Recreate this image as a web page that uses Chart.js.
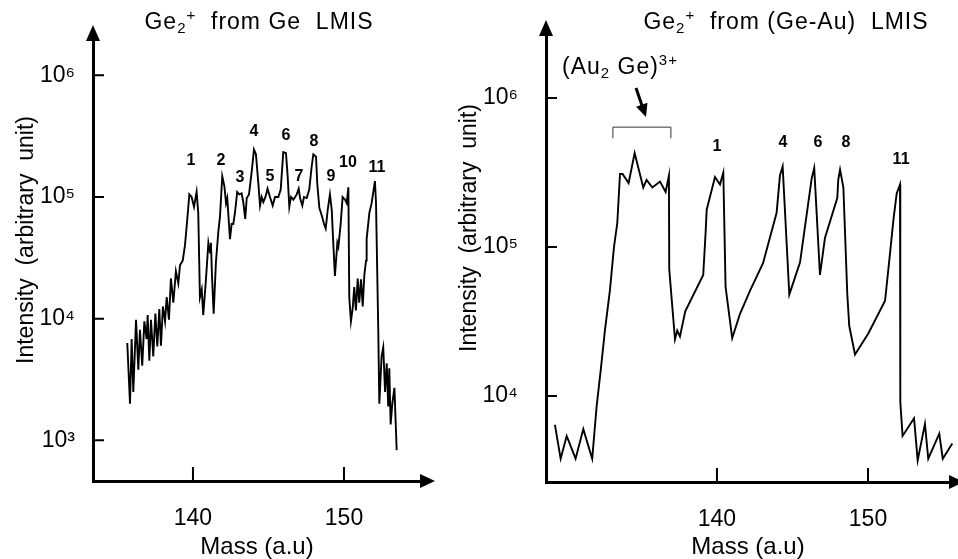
<!DOCTYPE html>
<html>
<head>
<meta charset="utf-8">
<script src="https://cdn.jsdelivr.net/npm/chart.js@4.4.0/dist/chart.umd.min.js"></script>
<style>
  body { margin: 0; background: #fff; }
  #wrap { position: relative; width: 958px; height: 559px; }
  #wrap canvas { position: absolute; left: 0; top: 0; }
</style>
</head>
<body>
<div id="wrap">
  <canvas id="left-chart" width="958" height="559"></canvas>
  <canvas id="right-chart" width="958" height="559"></canvas>
</div>
<script>
// Ge2+ spectrum from the Ge LMIS (left panel)
const leftMass = [
  135.65, 135.83, 135.94, 136.05, 136.23, 136.38, 136.49, 136.64, 136.78, 136.93,
  137.00, 137.11, 137.22, 137.37, 137.51, 137.64, 137.77, 137.88, 138.01, 138.15,
  138.26, 138.41, 138.54, 138.70, 138.87, 139.03, 139.14, 139.32, 139.47, 139.62,
  139.76, 139.91, 140.07, 140.24, 140.35, 140.46, 140.58, 140.68, 140.86, 141.02,
  141.13, 141.19, 141.26, 141.37, 141.52, 141.68, 141.79, 141.94, 142.08, 142.19,
  142.27, 142.45, 142.56, 142.67, 142.78, 142.93, 143.07, 143.22, 143.33, 143.46,
  143.56, 143.71, 143.89, 144.04, 144.17, 144.33, 144.44, 144.55, 144.66, 144.80,
  144.94, 145.10, 145.28, 145.43, 145.65, 145.81, 145.98, 146.16, 146.27, 146.38,
  146.49, 146.65, 146.87, 147.00, 147.09, 147.24, 147.35, 147.53, 147.70, 147.86,
  147.97, 148.15, 148.23, 148.37, 148.52, 148.68, 148.79, 148.92, 149.07, 149.19,
  149.29, 149.40, 149.56, 149.63, 149.78, 149.91, 150.07, 150.18, 150.29, 150.35,
  150.46, 150.58, 150.68, 150.79, 150.91, 151.01, 151.13, 151.24, 151.35, 151.46,
  151.50, 151.68, 151.83, 152.05, 152.12, 152.27, 152.34, 152.49, 152.60, 152.72,
  152.83, 152.93, 153.00, 153.09, 153.20, 153.34, 153.49
];
const leftIntensity = [
  6300, 2000, 6800, 2500, 9800, 3800, 8100, 4100, 9500, 6800,
  10700, 4500, 9800, 4900, 11000, 5900, 12000, 6000, 12600, 9500,
  15000, 9800, 21400, 13500, 24500, 19500, 27500, 30000, 40000, 65000,
  105000, 100000, 83000, 110000, 74000, 15000, 17400, 10700, 21000, 42000,
  35000, 42000, 22400, 11000, 29000, 52000, 69000, 148000, 123000, 89000,
  98000, 45000, 60000, 60000, 74000, 110000, 105000, 107000, 91000, 66000,
  98000, 105000, 162000, 245000, 224000, 129000, 85000, 100000, 91000, 100000,
  117000, 100000, 85000, 100000, 100000, 115000, 234000, 229000, 148000, 83000,
  100000, 95000, 105000, 117000, 98000, 85000, 100000, 98000, 115000, 178000,
  224000, 214000, 129000, 81000, 71000, 60000, 55000, 78000, 105000, 78000,
  42000, 22400, 42000, 39000, 60000, 100000, 95000, 89000, 120000, 15000,
  9500, 12300, 18200, 11700, 21400, 13500, 21000, 12600, 23000, 30000,
  45000, 74000, 89000, 135000, 90000, 8100, 2000, 4900, 5800, 2500,
  4300, 1900, 3900, 1350, 2000, 2700, 830
];

// Ge2+ spectrum from the (Ge-Au) LMIS (right panel)
const rightMass = [
  129.27, 129.65, 130.05, 130.64, 131.15, 131.74, 132.03, 132.30, 132.58, 132.91,
  133.18, 133.40, 133.58, 133.75, 134.15, 134.55, 135.12, 135.34, 135.72, 136.23,
  136.60, 136.82, 136.84, 137.22, 137.37, 137.55, 137.90, 139.09, 139.25, 139.32,
  139.87, 140.20, 140.42, 140.57, 141.01, 141.52, 142.19, 143.05, 143.95, 144.17,
  144.35, 144.79, 145.50, 146.27, 146.44, 146.82, 147.15, 147.97, 148.03, 148.15,
  148.37, 148.63, 148.76, 149.14, 150.02, 151.13, 151.46, 151.68, 151.90, 152.12,
  152.14, 152.29, 153.05, 153.29, 153.77, 153.99, 154.72, 154.95, 155.58, 155.96
];
const rightIntensity = [
  6400, 3800, 5400, 3800, 6000, 3800, 8500, 14800, 27500, 51000,
  100000, 145000, 309000, 309000, 269000, 427000, 251000, 282000, 251000, 275000,
  234000, 302000, 71000, 24000, 27500, 25100, 37000, 65000, 126000, 178000,
  295000, 263000, 316000, 54000, 24500, 35500, 51000, 78000, 170000, 302000,
  347000, 48000, 79000, 288000, 339000, 65000, 115000, 214000, 282000, 331000,
  251000, 48000, 29500, 19000, 26300, 43600, 91000, 151000, 229000, 263000,
  9100, 5400, 7100, 3700, 6500, 3800, 5600, 3800, 4800, 4000
];

const massTicks = [140, 150];
const leftIntensityTicks = [1e3, 1e4, 1e5, 1e6];
const rightIntensityTicks = [1e4, 1e5, 1e6];

const leftPeakLabels = ['1', '2', '3', '4', '5', '6', '7', '8', '9', '10', '11'];
const leftPeakMass = [139.87, 141.85, 143.11, 144.04, 145.10, 146.16, 147.02, 148.01, 149.14, 150.26, 152.19];
const leftPeakIntensity = [200000, 198000, 143000, 342000, 146000, 317000, 146000, 283000, 146000, 190000, 173000];

const rightPeakLabels = ['1', '4', '6', '8', '11'];
const rightPeakMass = [140.0, 144.37, 146.69, 148.54, 152.19];
const rightPeakIntensity = [470000, 500000, 500000, 500000, 384000];

const FONT = "'Liberation Sans', Arial, Helvetica, sans-serif";
const SUP = { 3: '\u00B3', 4: '\u2074', 5: '\u2075', 6: '\u2076' };

Chart.defaults.color = '#000';
Chart.defaults.font.family = FONT;

// text with sub / superscript parts: [text, 0 normal | 1 sub | 2 sup]
function drawRich(ctx, parts, x, y, align) {
  const fontOf = k => (k ? '15px ' : '23px ') + FONT;
  ctx.letterSpacing = '1px';
  let w = 0;
  parts.forEach(p => { ctx.font = fontOf(p[1]); w += ctx.measureText(p[0]).width; });
  let cx = align === 'center' ? x - w / 2 : x;
  ctx.textAlign = 'left';
  ctx.textBaseline = 'middle';
  parts.forEach(p => {
    ctx.font = fontOf(p[1]);
    const dy = p[1] === 1 ? 6 : p[1] === 2 ? -7 : 0;
    ctx.fillText(p[0], cx, y + dy);
    cx += ctx.measureText(p[0]).width;
  });
  ctx.letterSpacing = '0px';
}

const decor = {
  id: 'decor',
  afterDraw(chart, args, o) {
    const { ctx, chartArea: a } = chart;
    const xs = chart.scales.x, ys = chart.scales.y;
    ctx.save();
    ctx.strokeStyle = '#000';
    ctx.fillStyle = '#000';

    // inward tick marks
    ctx.lineWidth = 2;
    ctx.beginPath();
    ys.ticks.forEach(t => {
      const py = ys.getPixelForValue(t.value);
      ctx.moveTo(a.left, py); ctx.lineTo(a.left + 11, py);
    });
    xs.ticks.forEach(t => {
      const px = xs.getPixelForValue(t.value);
      ctx.moveTo(px, a.bottom); ctx.lineTo(px, a.bottom - 14);
    });
    ctx.stroke();

    // axis arrow heads
    ctx.beginPath();
    ctx.moveTo(a.left, a.top - 15); ctx.lineTo(a.left - 7, a.top + 1); ctx.lineTo(a.left + 7, a.top + 1);
    ctx.closePath();
    ctx.moveTo(a.right + 14, a.bottom); ctx.lineTo(a.right - 1, a.bottom - 7); ctx.lineTo(a.right - 1, a.bottom + 7);
    ctx.closePath();
    ctx.fill();

    // panel title
    drawRich(ctx, o.title, o.titleX, 23, 'center');

    // y axis title
    ctx.save();
    ctx.translate(o.yTitleX, o.yTitleY);
    ctx.rotate(-Math.PI / 2);
    ctx.font = '23px ' + FONT;
    ctx.textAlign = 'center';
    ctx.textBaseline = 'middle';
    ctx.fillText('Intensity  (arbitrary  unit)', 0, 0);
    ctx.restore();

    // peak numbers
    ctx.font = 'bold 16px ' + FONT;
    ctx.textAlign = 'center';
    ctx.textBaseline = 'middle';
    o.peakLabels.forEach((s, i) => {
      ctx.fillText(s, xs.getPixelForValue(o.peakMass[i]), ys.getPixelForValue(o.peakIntensity[i]));
    });

    // (Au2 Ge)3+ bracket and arrow
    if (o.bracket) {
      const b = o.bracket;
      const x1 = xs.getPixelForValue(b.from), x2 = xs.getPixelForValue(b.to);
      const yt = ys.getPixelForValue(b.top), yb = ys.getPixelForValue(b.end);
      ctx.lineWidth = 1;
      ctx.strokeStyle = '#333';
      ctx.beginPath();
      ctx.moveTo(x1, yb); ctx.lineTo(x1, yt); ctx.lineTo(x2, yt); ctx.lineTo(x2, yb);
      ctx.stroke();

      const ax1 = xs.getPixelForValue(b.arrowFrom[0]), ay1 = ys.getPixelForValue(b.arrowFrom[1]);
      const ax2 = xs.getPixelForValue(b.arrowTo[0]), ay2 = ys.getPixelForValue(b.arrowTo[1]);
      const ang = Math.atan2(ay2 - ay1, ax2 - ax1);
      ctx.strokeStyle = '#000';
      ctx.lineWidth = 3;
      ctx.beginPath();
      ctx.moveTo(ax1, ay1);
      ctx.lineTo(ax2 - 10 * Math.cos(ang), ay2 - 10 * Math.sin(ang));
      ctx.stroke();
      ctx.beginPath();
      ctx.moveTo(ax2, ay2);
      ctx.lineTo(ax2 - 13 * Math.cos(ang) + 6 * Math.sin(ang), ay2 - 13 * Math.sin(ang) - 6 * Math.cos(ang));
      ctx.lineTo(ax2 - 13 * Math.cos(ang) - 6 * Math.sin(ang), ay2 - 13 * Math.sin(ang) + 6 * Math.cos(ang));
      ctx.closePath();
      ctx.fill();

      drawRich(ctx, b.label, xs.getPixelForValue(b.labelAt[0]), ys.getPixelForValue(b.labelAt[1]), 'left');
    }
    ctx.restore();
  }
};

function spectrumChart(id, mass, intensity, o) {
  return new Chart(document.getElementById(id), {
    type: 'line',
    data: {
      datasets: [{
        data: mass.map((m, i) => ({ x: m, y: intensity[i] })),
        borderColor: '#000',
        borderWidth: 1.9,
        pointRadius: 0,
        tension: 0,
        clip: o.clip
      }]
    },
    options: {
      responsive: false,
      animation: false,
      layout: { padding: o.padding },
      plugins: {
        legend: { display: false },
        tooltip: { enabled: false },
        decor: o.decor
      },
      scales: {
        x: {
          type: 'linear',
          min: o.xMin,
          max: o.xMax,
          afterBuildTicks: s => { s.ticks = massTicks.map(v => ({ value: v })); },
          afterFit: s => { s.height = o.xHeight; },
          grid: { display: false },
          border: { display: true, color: '#000', width: 3 },
          ticks: { font: { size: 23 }, padding: 16, maxRotation: 0 },
          title: { display: true, text: 'Mass (a.u)', font: { size: 24, lineHeight: 1 }, padding: 0 }
        },
        y: {
          type: 'logarithmic',
          min: o.yMin,
          max: o.yMax,
          afterBuildTicks: s => { s.ticks = o.yTicks.map(v => ({ value: v })); },
          afterFit: s => { s.width = o.yWidth; },
          grid: { display: false },
          border: { display: true, color: '#000', width: 3 },
          ticks: {
            font: { size: 23 },
            padding: o.yPad,
            callback: v => '10' + SUP[Math.round(Math.log10(v))]
          }
        }
      }
    },
    plugins: [decor]
  });
}

spectrumChart('left-chart', leftMass, leftIntensity, {
  padding: { left: 0, right: 537, top: 40, bottom: 0 },
  xHeight: 78, yWidth: 93, yPad: 10,
  xMin: 133.38, xMax: 155.1,
  yMin: 463, yMax: 1950000,
  yTicks: leftIntensityTicks,
  clip: 4,
  decor: {
    title: [['Ge', 0], ['2', 1], ['+', 2], ['  from Ge  LMIS', 0]],
    titleX: 259, yTitleX: 27, yTitleY: 240,
    peakLabels: leftPeakLabels, peakMass: leftPeakMass, peakIntensity: leftPeakIntensity
  }
});

spectrumChart('right-chart', rightMass, rightIntensity, {
  padding: { left: 470, right: 8, top: 35, bottom: 0 },
  xHeight: 77, yWidth: 76, yPad: 20,
  xMin: 128.68, xMax: 155.43,
  yMin: 2650, yMax: 2650000,
  yTicks: rightIntensityTicks,
  clip: { left: 4, top: 4, right: 12, bottom: 4 },
  decor: {
    title: [['Ge', 0], ['2', 1], ['+', 2], ['  from (Ge-Au)  LMIS', 0]],
    titleX: 786, yTitleX: 470, yTitleY: 228,
    peakLabels: rightPeakLabels, peakMass: rightPeakMass, peakIntensity: rightPeakIntensity,
    bracket: {
      from: 133.11, to: 136.95, top: 638000, end: 537000,
      arrowFrom: [134.64, 1170000], arrowTo: [135.30, 745000],
      label: [['(Au', 0], ['2', 1], [' Ge)', 0], ['3+', 2]],
      labelAt: [129.74, 1590000]
    }
  }
});
</script>
</body>
</html>
